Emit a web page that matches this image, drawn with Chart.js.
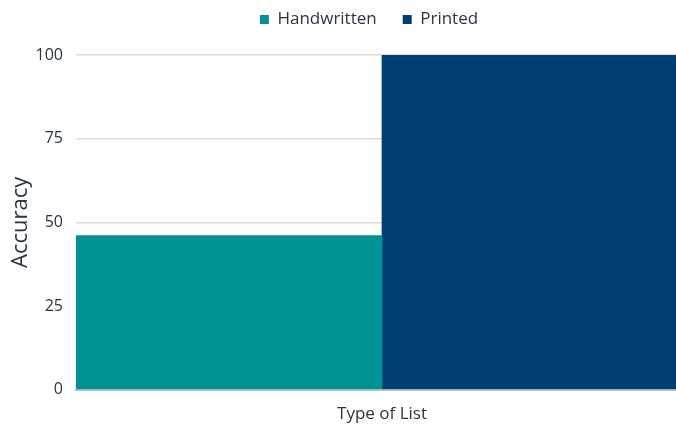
<!DOCTYPE html>
<html>
<head>
<meta charset="utf-8">
<script src="https://cdn.jsdelivr.net/npm/chart.js@4/dist/chart.umd.min.js"></script>
<style>
html,body{margin:0;padding:0;background:#fff;overflow:hidden;}
#wrap{width:676px;height:426px;position:relative;overflow:hidden;}
</style>
</head>
<body>
<div id="wrap"><canvas id="c" width="688" height="426"></canvas></div>
<script>
const categories = [''];
const seriesNames = ['Handwritten', 'Printed'];
const handwritten = [46];
const printed = [100];
const yTicks = [0, 25, 50, 75, 100];

const legendGap = {
  id: 'legendGap',
  beforeInit(chart) {
    const origFit = chart.legend.fit;
    chart.legend.fit = function () {
      origFit.bind(chart.legend)();
      this.height += 17;
    };
  },
  afterLayout(chart) {
    chart.legend.left += 42;
  }
};

Chart.defaults.font.family = "'Open Sans', Lato, sans-serif";
new Chart(document.getElementById('c'), {
  type: 'bar',
  data: {
    labels: categories,
    datasets: [
      {label: seriesNames[0], data: handwritten, backgroundColor: '#009193', categoryPercentage: 1, barPercentage: 1},
      {label: seriesNames[1], data: printed, backgroundColor: '#003f72', categoryPercentage: 1, barPercentage: 1}
    ]
  },
  plugins: [legendGap],
  options: {
    responsive: false,
    animation: false,
    layout: {padding: {left: 8, right: 0, top: -15, bottom: 2}},
    plugins: {
      legend: {
        labels: {boxWidth: 9, boxHeight: 9, color: '#2b3540', font: {size: 17}, padding: 26}
      },
      tooltip: {enabled: false}
    },
    scales: {
      x: {
        grid: {display: false},
        border: {display: true, color: '#a9c3cf', width: 2},
        ticks: {display: false},
        title: {display: true, text: 'Type of List', color: '#2b3540', font: {size: 17}, padding: {top: 6, bottom: 0}}
      },
      y: {
        min: 0, max: 100,
        afterBuildTicks: (axis) => { axis.ticks = yTicks.map(v => ({value: v})); },
        afterFit: (axis) => { axis.width = 68; },
        grid: {color: '#dcdcdc', drawTicks: false, lineWidth: 1.5},
        border: {display: false},
        ticks: {color: '#2b3540', font: {size: 16, weight: '500'}, padding: 13},
        title: {display: true, text: 'Accuracy', color: '#2b3540', font: {size: 22}, padding: {top: 0, bottom: 4}}
      }
    }
  }
});
</script>
</body>
</html>
